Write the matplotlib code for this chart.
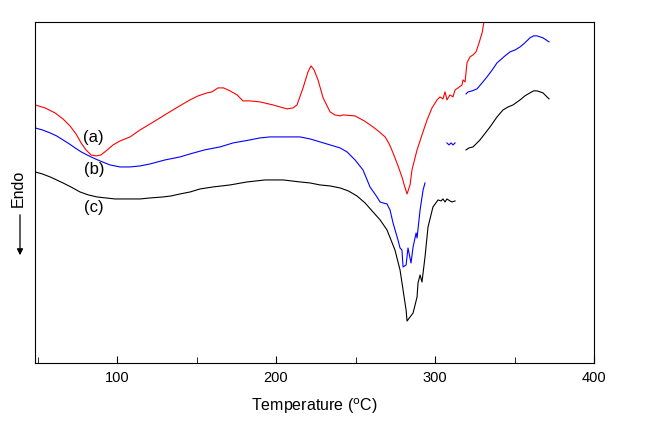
import matplotlib
matplotlib.use('Agg')
import matplotlib.pyplot as plt
from matplotlib.ticker import MultipleLocator
import numpy as np

nan = np.nan

# DSC traces, heat flow in arbitrary units (gaps marked with nan)
temp_a = [48.4, 54.7, 61.0, 66.0, 70.4, 74.2, 77.4, 80.5, 83.6, 86.8, 89.9, 93.1,
          97.5, 101.9, 108.2, 114.5, 120.8, 128.0, 135.2, 140.5, 145.9, 151.0, 156.6,
          159.7, 163.5, 167.0, 171.1, 175.5, 179.2, 183.6, 189.9, 198.0, 206.9, 210.7,
          213.2, 217.0, 220.1, 222.0, 223.9, 226.4, 229.6, 234.0, 237.0, 240.3, 242.1,
          249.7, 255.5, 261.0, 265.0, 268.6, 271.2, 273.6, 276.5, 279.2, 281.0, 282.4,
          284.3, 285.5, 288.7, 291.8, 295.0, 298.1, 301.3, 303.1, 305.0, 306.3, 307.5,
          309.4, 311.3, 312.6, 314.5, 317.0, 317.6, 318.9, 320.1, 322.0, 323.9, 325.8,
          327.7, 329.6, 330.8, 332.7]
heat_a = [2.58, 2.55, 2.50, 2.44, 2.37, 2.29, 2.20, 2.13, 2.08, 2.07, 2.08, 2.12,
          2.18, 2.22, 2.26, 2.33, 2.39, 2.46, 2.53, 2.58, 2.63, 2.67, 2.70,
          2.71, 2.75, 2.75, 2.72, 2.68, 2.62, 2.62, 2.61, 2.58, 2.54, 2.55,
          2.58, 2.75, 2.91, 2.97, 2.93, 2.83, 2.65, 2.51, 2.48, 2.47, 2.48,
          2.47, 2.42, 2.36, 2.31, 2.26, 2.19, 2.10, 1.98, 1.86, 1.76, 1.69,
          1.78, 1.93, 2.13, 2.28, 2.43, 2.55, 2.63, 2.66, 2.64, 2.71, 2.63,
          2.68, 2.66, 2.73, 2.75, 2.78, 2.83, 2.81, 3.00, 3.06, 3.08, 3.11,
          3.20, 3.30, 3.41, 3.53]

temp_b = [48.4, 53.0, 57.9, 62.0, 66.0, 70.0, 73.6, 77.5, 81.1, 85.0, 89.3, 95.6,
          101.9, 108.2, 114.5, 120.8, 130.2, 139.6, 145.9, 155.0, 164.8, 173.0, 183.6,
          189.9, 196.2, 205.7, 215.1, 221.4, 227.7, 234.0, 240.3, 244.7, 249.7, 254.7,
          259.1, 263.5, 265.4, 267.3, 269.8, 271.7, 273.6, 276.7, 278.0, 279.2, 279.9,
          281.8, 283.0, 284.9, 286.2, 288.1, 288.7, 290.6, 292.5, 293.7, nan,
          307.5, 308.8, 310.1, 311.3, 312.6, nan,
          319.5, 320.8, 323.3, 326.4, 329.6, 332.7, 336.0, 339.0, 344.0, 347.2, 350.5,
          353.5, 356.5, 359.7, 362.0, 364.2, 367.9, 371.7]
heat_b = [2.35, 2.33, 2.30, 2.27, 2.23, 2.19, 2.15, 2.11, 2.08, 2.05, 2.02, 1.98,
          1.96, 1.96, 1.97, 1.99, 2.03, 2.06, 2.09, 2.13, 2.16, 2.20, 2.23,
          2.25, 2.26, 2.26, 2.26, 2.24, 2.21, 2.18, 2.15, 2.11, 2.03, 1.93,
          1.76, 1.66, 1.61, 1.60, 1.59, 1.53, 1.40, 1.23, 1.15, 1.13, 0.96,
          0.98, 1.15, 1.00, 1.16, 1.30, 1.25, 1.53, 1.73, 1.80, nan,
          2.20, 2.18, 2.20, 2.18, 2.20, nan,
          2.69, 2.71, 2.72, 2.74, 2.80, 2.86, 2.93, 3.00, 3.07, 3.11, 3.13,
          3.16, 3.20, 3.25, 3.27, 3.27, 3.25, 3.21]

temp_c = [48.4, 53.0, 57.9, 62.0, 66.0, 71.0, 76.7, 82.0, 87.4, 93.0, 98.7, 108.2,
          114.5, 120.8, 129.0, 134.0, 139.6, 146.0, 152.2, 160.4, 171.1, 181.8, 193.1,
          204.4, 215.1, 221.4, 227.7, 234.0, 240.3, 245.5, 250.9, 256.0, 261.0, 265.5,
          269.8, 274.8, 278.0, 279.9, 281.8, 282.4, 284.3, 286.2, 288.7, 289.3, 290.6,
          291.8, 293.7, 295.6, 298.7, 301.9, 303.8, 305.0, 306.3, 307.5, 309.4, 310.7,
          312.6, nan,
          319.5, 321.4, 323.9, 328.3, 334.6, 339.0, 342.8, 346.0, 349.1, 353.5, 356.5,
          359.7, 362.0, 364.2, 367.9, 371.7]
heat_c = [1.91, 1.89, 1.86, 1.83, 1.80, 1.76, 1.71, 1.68, 1.66, 1.65, 1.64, 1.64,
          1.64, 1.65, 1.66, 1.67, 1.69, 1.71, 1.74, 1.76, 1.78, 1.81, 1.83,
          1.83, 1.81, 1.80, 1.78, 1.77, 1.75, 1.72, 1.67, 1.60, 1.51, 1.43,
          1.33, 1.13, 0.93, 0.73, 0.53, 0.42, 0.46, 0.50, 0.66, 0.80, 0.88,
          0.81, 1.06, 1.36, 1.56, 1.63, 1.62, 1.64, 1.61, 1.64, 1.62, 1.61,
          1.62, nan,
          2.13, 2.15, 2.16, 2.23, 2.36, 2.46, 2.53, 2.56, 2.58, 2.63, 2.67,
          2.70, 2.72, 2.72, 2.70, 2.64]

labels = ['(a)', '(b)', '(c)']
label_x = [84.9, 85.5, 85.5]
label_y = [2.25, 1.93, 1.55]

plt.rcParams['font.family'] = ['Liberation Sans', 'DejaVu Sans']

fig = plt.figure(figsize=(6.47, 4.46), dpi=100)
ax = fig.add_axes([0.0541, 0.186, 0.8640, 0.765])

ax.plot(temp_a, heat_a, color='#ff0000', lw=0.8)
ax.plot(temp_b, heat_b, color='#0000ff', lw=0.8)
ax.plot(temp_c, heat_c, color='black', lw=0.8)

for lab, x, y in zip(labels, label_x, label_y):
    ax.text(x, y, lab, fontsize=12, ha='center', va='center')

ax.set_xlim(48.4, 400)
ax.set_ylim(0, 3.41)
ax.xaxis.set_major_locator(MultipleLocator(100))
ax.xaxis.set_minor_locator(MultipleLocator(50))
ax.tick_params(axis='x', which='major', direction='in', length=5, labelsize=10.5, pad=6)
ax.tick_params(axis='x', which='minor', direction='in', length=4)
ax.set_yticks([])
ax.set_xlabel('Temperature ($^{\\rm o}$C)', fontsize=11.5, labelpad=8)

fig.text(18 / 647, 1 - 188 / 446, 'Endo', rotation=90, fontsize=11.5,
         ha='center', va='center')
fig.add_artist(matplotlib.patches.FancyArrowPatch(
    (20 / 647, 1 - 212 / 446), (20 / 647, 1 - 258 / 446),
    transform=fig.transFigure, arrowstyle='-|>', mutation_scale=9,
    color='black', lw=0.9))

plt.savefig('out.png', dpi=100)
plt.close()
